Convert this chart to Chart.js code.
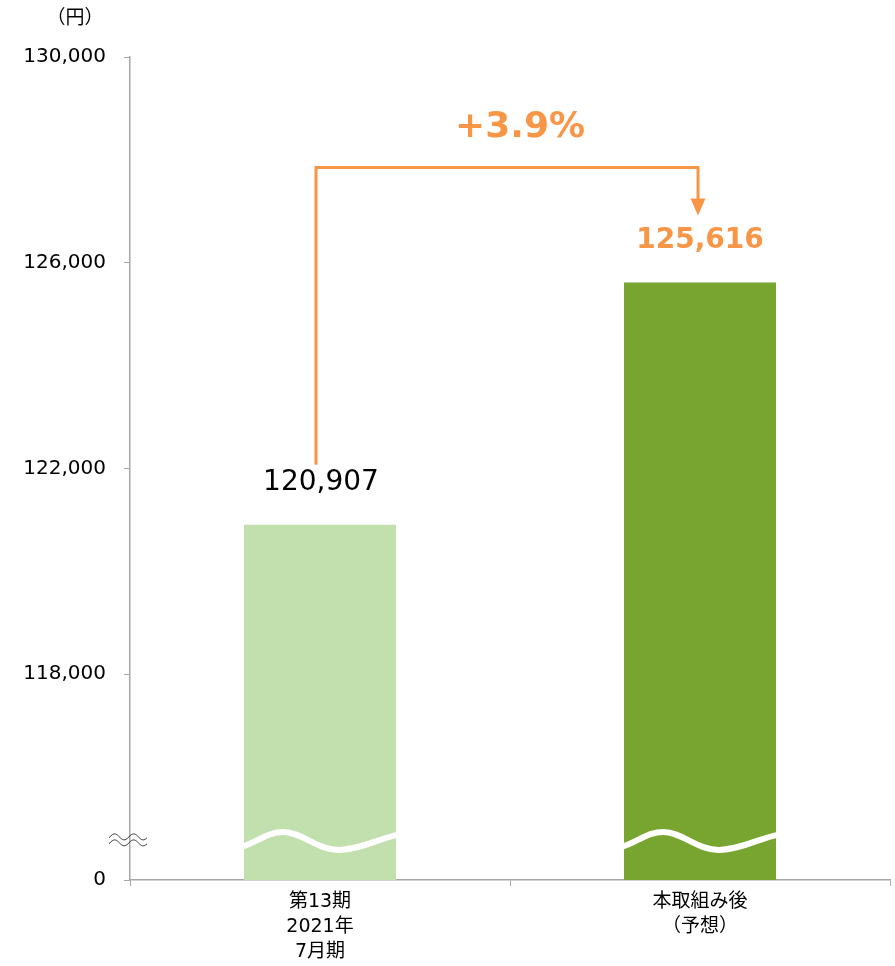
<!DOCTYPE html>
<html><head><meta charset="utf-8">
<script src="https://cdn.jsdelivr.net/npm/chart.js@4/dist/chart.umd.min.js"></script>
<style>html,body{margin:0;padding:0;background:#fff}#wrap{width:895px;height:966px}</style>
</head><body><div id="wrap"><canvas id="c" width="895" height="966"></canvas></div>
<script>
const categories = [['第13期','2021年','7月期'], ['本取組み後','（予想）']];
const values = [120907, 125616];
const valueLabels = ['120,907', '125,616'];
const growthLabel = '+3.9%';
const unitLabel = '（円）';
const axisBase = 114000;            // shown as "0" (broken axis)
const axisMax = 130000;
const axisStep = 4000;
const breakValue = 114780;          // where the break marks sit
const barColors = ['#C2DFAE', '#78A52F'];
const orange = '#F79646';
const FONT = '"DejaVu Sans","Noto Sans CJK JP",sans-serif';

const deco = {
  id: 'deco',
  afterDatasetsDraw(chart) {
    const ctx = chart.ctx, ys = chart.scales.y, area = chart.chartArea;
    const bars = chart.getDatasetMeta(0).data;
    const yc = ys.getPixelForValue(breakValue);
    ctx.save();
    // wavy white break on bars
    bars.forEach(b => {
      const x0 = b.x - b.width / 2, w = b.width;
      ctx.beginPath();
      ctx.moveTo(x0 - 2, yc + 7);
      ctx.bezierCurveTo(x0 + 0.10 * w, yc + 1, x0 + 0.16 * w, yc - 8, x0 + 0.26 * w, yc - 8);
      ctx.bezierCurveTo(x0 + 0.38 * w, yc - 8, x0 + 0.48 * w, yc + 10, x0 + 0.62 * w, yc + 10);
      ctx.bezierCurveTo(x0 + 0.76 * w, yc + 10, x0 + 0.90 * w, yc - 2, x0 + w + 2, yc - 5);
      ctx.strokeStyle = '#fff'; ctx.lineWidth = 6; ctx.stroke();
    });
    // axis break symbol
    ctx.strokeStyle = '#333'; ctx.lineWidth = 1;
    [-3, 3].forEach(off => {
      ctx.beginPath();
      const sx = area.left - 21, sw = 38;
      for (let i = 0; i <= 40; i++) {
        const x = sx + sw * i / 40;
        const y = yc + off - 3 * Math.sin(i / 40 * Math.PI * 4 - 0.3);
        i ? ctx.lineTo(x, y) : ctx.moveTo(x, y);
      }
      ctx.stroke();
    });
    // value labels
    ctx.textAlign = 'center'; ctx.textBaseline = 'middle';
    ctx.fillStyle = '#000'; ctx.font = '28px ' + FONT;
    ctx.fillText(valueLabels[0], bars[0].x + 1, bars[0].y - 42);
    ctx.fillStyle = orange; ctx.font = 'bold 28px ' + FONT;
    ctx.fillText(valueLabels[1], bars[1].x, bars[1].y - 42);
    // connector arrow
    const x1 = bars[0].x - 4, x2 = bars[1].x - 2;
    const yStart = bars[0].y - 60, yTop = bars[1].y - 115, tip = bars[1].y - 67;
    ctx.strokeStyle = orange; ctx.lineWidth = 3; ctx.lineJoin = 'miter';
    ctx.beginPath();
    ctx.moveTo(x1, yStart); ctx.lineTo(x1, yTop); ctx.lineTo(x2, yTop); ctx.lineTo(x2, tip - 12);
    ctx.stroke();
    ctx.fillStyle = orange;
    ctx.beginPath();
    ctx.moveTo(x2 - 7.5, tip - 17); ctx.lineTo(x2 + 7.5, tip - 17); ctx.lineTo(x2, tip);
    ctx.closePath(); ctx.fill();
    ctx.font = 'bold 36px ' + FONT;
    ctx.fillText(growthLabel, (x1 + x2) / 2 + 13, yTop - 40);
    // unit label
    ctx.fillStyle = '#000'; ctx.font = '19px "Noto Sans CJK JP",sans-serif';
    ctx.fillText(unitLabel, 75, 17);
    ctx.restore();
  }
};

new Chart(document.getElementById('c'), {
  type: 'bar',
  data: {
    labels: categories,
    datasets: [{ data: values, backgroundColor: barColors, borderWidth: 0,
      categoryPercentage: 1, barPercentage: 0.4 }]
  },
  options: {
    responsive: false, animation: false,
    layout: { padding: { top: 57, right: 5, left: 0, bottom: 0 } },
    plugins: { legend: { display: false }, tooltip: { enabled: false } },
    scales: {
      x: {
        grid: { drawOnChartArea: false, tickLength: 6, color: '#A6A6A6' },
        border: { color: '#A6A6A6', width: 1.5 },
        ticks: { color: '#000', font: { family: FONT, size: 19, lineHeight: 1.3 }, padding: 4, maxRotation: 0 },
        afterFit(s) { s.height = 86; }
      },
      y: {
        min: axisBase, max: axisMax,
        grid: { drawOnChartArea: false, tickLength: 6, color: '#A6A6A6' },
        border: { color: '#A6A6A6', width: 1.5 },
        ticks: { stepSize: axisStep, color: '#000', padding: 18,
          font: { family: FONT, size: 20 },
          callback: v => v === axisBase ? '0' : v.toLocaleString('en-US') },
        afterFit(s) { s.width = 130; }
      }
    }
  },
  plugins: [deco]
});
</script></body></html>
